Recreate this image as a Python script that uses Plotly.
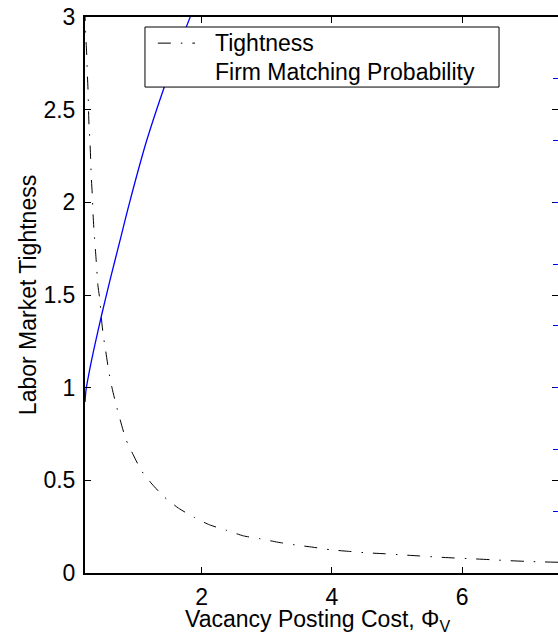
import plotly.graph_objects as go

# Vacancy posting cost (x) and labor market tightness (left axis)
phi_tight = [0.205, 0.219, 0.235, 0.244, 0.255, 0.270, 0.285, 0.296, 0.305, 0.321,
             0.332, 0.347, 0.378, 0.408, 0.439, 0.459, 0.490, 0.526, 0.573, 0.623,
             0.685, 0.754, 0.838, 0.946, 1.079, 1.237, 1.426, 1.644, 1.886, 2.120,
             2.384, 2.645, 2.895, 3.17, 3.43, 3.71, 3.985, 4.25, 4.53, 4.80,
             5.07, 5.34, 5.61, 5.88, 6.14, 6.43, 6.69, 6.96, 7.22, 7.47]
tightness = [3.05, 2.91, 2.80, 2.70, 2.61, 2.42, 2.33, 2.23, 2.14, 2.04,
             1.94, 1.85, 1.70, 1.55, 1.47, 1.38, 1.28, 1.20, 1.09, 1.00,
             0.91, 0.82, 0.72, 0.64, 0.55, 0.48, 0.41, 0.35, 0.30, 0.26,
             0.23, 0.20, 0.185, 0.166, 0.152, 0.139, 0.125, 0.117, 0.109, 0.104,
             0.098, 0.092, 0.086, 0.081, 0.077, 0.072, 0.067, 0.063, 0.060, 0.058]

# Firm matching probability (right axis, labels cropped in original)
phi_prob = [0.210, 0.224, 0.275, 0.362, 0.465, 0.593, 0.746, 0.889, 1.156, 1.437, 1.667, 1.820, 1.90]
prob = [0.277, 0.296, 0.326, 0.370, 0.418, 0.474, 0.538, 0.598, 0.700, 0.790, 0.857, 0.899, 0.92]

x_ticks = [2, 4, 6]
y_ticks = [0, 0.5, 1, 1.5, 2, 2.5, 3]
legend_labels = ["Tightness", "Firm Matching Probability"]
x_title = "Vacancy Posting Cost, Φ<sub>V</sub>"
y_title = "Labor Market Tightness"

FONT = "Arial, Liberation Sans, sans-serif"
FS = 23
DASHDOT = "13px,10px,1.5px,10px"

fig = go.Figure()
fig.add_trace(go.Scatter(
    x=phi_tight, y=tightness, mode="lines", name=legend_labels[0],
    line=dict(color="black", width=1, dash=DASHDOT, shape="spline", smoothing=0.6),
))
fig.add_trace(go.Scatter(
    x=phi_prob, y=prob, mode="lines", name=legend_labels[1],
    line=dict(color="#0000ff", width=1.3, shape="spline", smoothing=0.8), yaxis="y2",
))

# Legend box drawn as in the original (second entry has no sample line)
shapes = [
    dict(type="rect", xref="paper", yref="paper", x0=0.1268, x1=0.8753, y0=0.874, y1=0.982,
         line=dict(color="black", width=1), fillcolor="white", layer="above"),
    dict(type="line", xref="paper", yref="paper", x0=0.154, x1=0.2326, y0=0.953, y1=0.953,
         line=dict(color="black", width=1, dash=DASHDOT), layer="above"),
]
annotations = [
    dict(text=legend_labels[0], xref="paper", yref="paper", x=0.2706, y=0.953,
         xanchor="left", yanchor="middle", showarrow=False, font=dict(family=FONT, size=FS)),
    dict(text=legend_labels[1], xref="paper", yref="paper", x=0.2706, y=0.901,
         xanchor="left", yanchor="middle", showarrow=False, font=dict(family=FONT, size=FS)),
    dict(text=x_title, xref="paper", yref="paper", x=0.4905, y=0, yshift=-31,
         xanchor="center", yanchor="top", showarrow=False, font=dict(family=FONT, size=FS)),
]

fig.update_layout(
    width=558, height=640,
    margin=dict(l=85, r=0, t=17, b=67, pad=0),
    paper_bgcolor="white", plot_bgcolor="white",
    font=dict(family=FONT, size=FS, color="black"),
    showlegend=False,
    shapes=shapes,
    annotations=annotations,
    xaxis=dict(
        range=[0.209, 7.47], tickvals=x_ticks, ticktext=[str(v) for v in x_ticks],
        ticks="inside", ticklen=6, tickwidth=1, tickcolor="black",
        showline=True, linewidth=2, linecolor="black", mirror="ticks",
        showgrid=False, zeroline=False, automargin=False,
        ticklabelstandoff=2,
    ),
    yaxis=dict(
        range=[0, 3], tickvals=y_ticks, ticktext=[f"{v:g}" for v in y_ticks],
        ticks="inside", ticklen=6, tickwidth=1, tickcolor="black",
        showline=True, linewidth=2, linecolor="black", mirror="ticks",
        showgrid=False, zeroline=False, automargin=False,
        ticklabelstandoff=3, ticklabeloverflow="allow",
        title=dict(text=y_title, standoff=0, font=dict(family=FONT, size=FS)),
    ),
    yaxis2=dict(
        range=[0, 0.9], dtick=0.1, tick0=0, overlaying="y", side="right",
        ticks="inside", ticklen=5, tickwidth=1, tickcolor="#0000ff",
        showticklabels=False, showline=False, showgrid=False, zeroline=False,
        automargin=False,
    ),
)

fig.write_html(
    "out.html",
    config={"displayModeBar": False},
    post_script="document.body.style.margin='0';document.body.style.overflow='hidden';",
)
